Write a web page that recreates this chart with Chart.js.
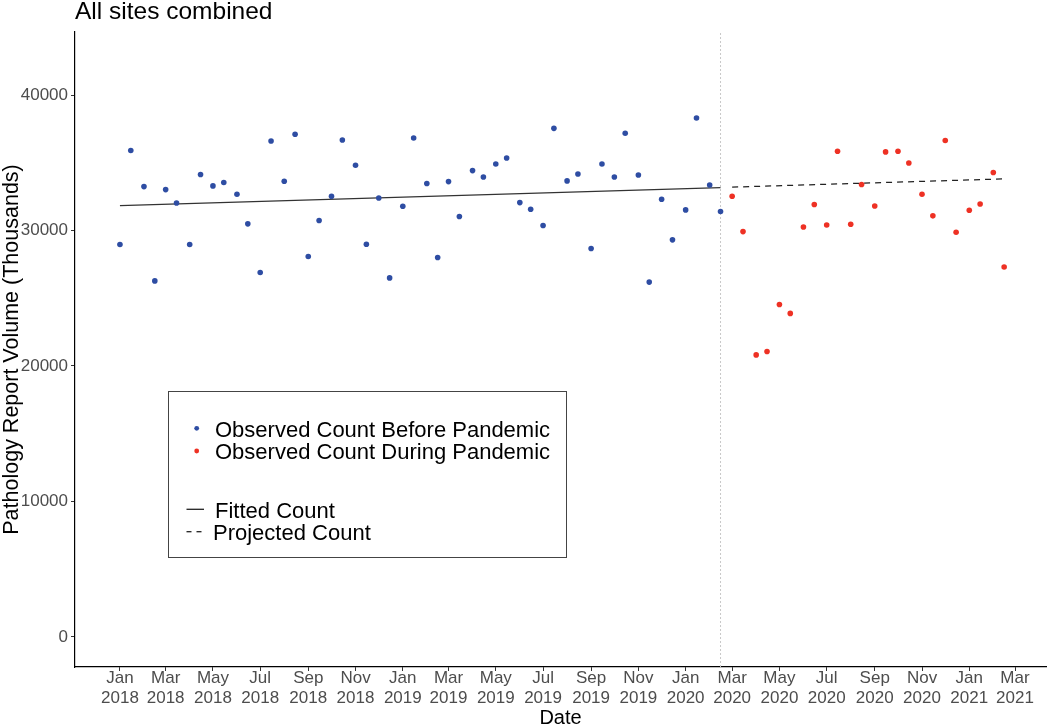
<!DOCTYPE html>
<html>
<head>
<meta charset="utf-8">
<script src="https://cdn.jsdelivr.net/npm/chart.js@4/dist/chart.umd.min.js"></script>
<style>
  html, body { margin: 0; padding: 0; background: #fff; }
  #wrap { width: 1050px; height: 728px; }
</style>
</head>
<body>
<div id="wrap"><canvas id="c" width="1050" height="728"></canvas></div>
<script>
// ---------- DATA ----------
const titleText = 'All sites combined';
const xTitle = 'Date';
const yTitle = 'Pathology Report Volume (Thousands)';

// semi-monthly observations (1st and 15th of each month)
const beforeStart = [2018, 1];   // Jan 2018
const beforeValues = [28970, 35900, 33240, 26280, 33020, 32030, 28970, 34130, 33290, 33540,
                      32680, 30490, 26900, 36610, 33640, 37100, 28080, 30740, 32530, 36680,
                      34820, 28990, 32400, 26500, 31790, 36830, 33470, 28010, 33610, 31030,
                      34420, 33950, 34910, 35350, 32060, 31570, 30370, 37540, 33660, 34170,
                      28670, 34910, 33950, 37180, 34100, 26190, 32310, 29310, 31520, 38300,
                      33360, 31400];
const duringStart = [2020, 3];   // Mar 2020
const duringValues = [32530, 29920, 20820, 21070, 24540, 23880, 30260, 31920, 30410, 35850,
                      30460, 33390, 31810, 35800, 35850, 34980, 32680, 31080, 36640, 29870,
                      31500, 31960, 34280, 27310];

const fittedDates = ['2018-01-01', '2020-02-15'];
const fittedValues = [31830, 33170];
const projectedDates = ['2020-03-01', '2021-02-15'];
const projectedValues = [33200, 33810];
const cutoffDate = '2020-02-15';

const xTickDates = ['2018-01-01','2018-03-01','2018-05-01','2018-07-01','2018-09-01','2018-11-01',
                    '2019-01-01','2019-03-01','2019-05-01','2019-07-01','2019-09-01','2019-11-01',
                    '2020-01-01','2020-03-01','2020-05-01','2020-07-01','2020-09-01','2020-11-01',
                    '2021-01-01','2021-03-01'];
const xTickLabels = [['Jan','2018'],['Mar','2018'],['May','2018'],['Jul','2018'],['Sep','2018'],['Nov','2018'],
                     ['Jan','2019'],['Mar','2019'],['May','2019'],['Jul','2019'],['Sep','2019'],['Nov','2019'],
                     ['Jan','2020'],['Mar','2020'],['May','2020'],['Jul','2020'],['Sep','2020'],['Nov','2020'],
                     ['Jan','2021'],['Mar','2021']];
const yTickValues = [0, 10000, 20000, 30000, 40000];

const legendItems = [
  { label: 'Observed Count Before Pandemic', kind: 'dot', color: '#2e4da3' },
  { label: 'Observed Count During Pandemic', kind: 'dot', color: '#ee3124' },
  { label: 'Fitted Count', kind: 'line', color: '#222' },
  { label: 'Projected Count', kind: 'dash', color: '#222' }
];

// ---------- HELPERS ----------
const DAY = 86400000;
const ORIGIN = Date.UTC(2018, 0, 1);
function dayOf(s) {
  const [y, m, d] = s.split('-').map(Number);
  return (Date.UTC(y, m - 1, d) - ORIGIN) / DAY;
}
function semiMonthlyDays(start, count) {
  const out = [];
  let y = start[0], m = start[1] - 1;
  for (let i = 0; i < count; i++) {
    const d = (i % 2 === 0) ? 1 : 15;
    out.push((Date.UTC(y, m, d) - ORIGIN) / DAY);
    if (i % 2 === 1) { m++; if (m > 11) { m = 0; y++; } }
  }
  return out;
}
const beforeDays = semiMonthlyDays(beforeStart, beforeValues.length);
const duringDays = semiMonthlyDays(duringStart, duringValues.length);
const xTicks = xTickDates.map(dayOf);

const Y_MIN = -2215, Y_MAX = 44650;
const X_MIN = -58, X_MAX = 1195;
const FONT = "'Liberation Sans', Arial, Helvetica, sans-serif";

// ---------- PLUGINS ----------
const titlePlugin = {
  id: 'ggTitle',
  afterDraw(chart) {
    const ctx = chart.ctx;
    ctx.save();
    ctx.font = '24.5px ' + FONT;
    ctx.fillStyle = '#000';
    ctx.textAlign = 'left';
    ctx.textBaseline = 'alphabetic';
    ctx.fillText(titleText, 75, 19);
    ctx.restore();
  }
};

const legendPlugin = {
  id: 'ggLegend',
  afterDraw(chart) {
    const ctx = chart.ctx;
    ctx.save();
    ctx.strokeStyle = '#444';
    ctx.lineWidth = 1;
    ctx.strokeRect(168.5, 391.5, 398, 166);
    ctx.font = '22px ' + FONT;
    ctx.fillStyle = '#000';
    ctx.textBaseline = 'alphabetic';
    ctx.textAlign = 'left';
    const rows = [
      { item: legendItems[0], ySym: 428.3, yText: 436.7, xText: 215 },
      { item: legendItems[1], ySym: 451.0, yText: 459.3, xText: 215 },
      { item: legendItems[2], ySym: 509.3, yText: 517.5, xText: 215 },
      { item: legendItems[3], ySym: 531.7, yText: 539.5, xText: 213 }
    ];
    rows.forEach(r => {
      const it = r.item;
      if (it.kind === 'dot') {
        ctx.beginPath();
        ctx.fillStyle = it.color;
        ctx.arc(196.7, r.ySym, 2.4, 0, Math.PI * 2);
        ctx.fill();
      } else {
        ctx.beginPath();
        ctx.strokeStyle = it.color;
        ctx.lineWidth = 1.3;
        ctx.setLineDash(it.kind === 'dash' ? [5, 5] : []);
        ctx.moveTo(186.5, r.ySym);
        ctx.lineTo(204, r.ySym);
        ctx.stroke();
        ctx.setLineDash([]);
      }
      ctx.fillStyle = '#000';
      ctx.fillText(it.label, r.xText, r.yText);
    });
    ctx.restore();
  }
};

// ---------- CHART ----------
const ctx = document.getElementById('c').getContext('2d');
new Chart(ctx, {
  data: {
    datasets: [
      {
        type: 'scatter', label: legendItems[0].label, order: 0,
        data: beforeDays.map((d, i) => ({ x: d, y: beforeValues[i] })),
        backgroundColor: legendItems[0].color, borderWidth: 0, pointRadius: 2.8
      },
      {
        type: 'scatter', label: legendItems[1].label, order: 0,
        data: duringDays.map((d, i) => ({ x: d, y: duringValues[i] })),
        backgroundColor: legendItems[1].color, borderWidth: 0, pointRadius: 2.8
      },
      {
        type: 'line', label: legendItems[2].label, order: 1,
        data: fittedDates.map((d, i) => ({ x: dayOf(d), y: fittedValues[i] })),
        borderColor: '#333', borderWidth: 1.3, pointRadius: 0, fill: false
      },
      {
        type: 'line', label: legendItems[3].label, order: 1,
        data: projectedDates.map((d, i) => ({ x: dayOf(d), y: projectedValues[i] })),
        borderColor: '#222', borderWidth: 1.3, borderDash: [6, 5], pointRadius: 0, fill: false
      },
      {
        type: 'line', label: 'cutoff', order: 2,
        data: [{ x: dayOf(cutoffDate), y: Y_MIN }, { x: dayOf(cutoffDate), y: Y_MAX }],
        borderColor: '#c8c8c8', borderWidth: 1, borderDash: [2, 2], pointRadius: 0, fill: false
      }
    ]
  },
  options: {
    responsive: false,
    animation: false,
    layout: { padding: { left: 0, right: 2, top: 32, bottom: 0 } },
    plugins: { legend: { display: false }, tooltip: { enabled: false }, title: { display: false } },
    scales: {
      x: {
        type: 'linear', min: X_MIN, max: X_MAX,
        afterBuildTicks: s => { s.ticks = xTicks.map(v => ({ value: v })); },
        afterFit: s => { s.height = 61; },
        grid: { display: true, drawOnChartArea: false, drawTicks: true, tickLength: 4, color: '#333', lineWidth: 1 },
        border: { display: true, color: '#000', width: 1.2 },
        ticks: {
          autoSkip: false, maxRotation: 0, minRotation: 0, padding: -2,
          color: '#4d4d4d', font: { family: FONT, size: 17, lineHeight: 1.15 },
          callback: (v, i) => xTickLabels[i]
        },
        title: { display: true, text: xTitle, color: '#000', font: { family: FONT, size: 20, lineHeight: 1 }, padding: { top: 0, bottom: 0 } }
      },
      y: {
        type: 'linear', min: Y_MIN, max: Y_MAX,
        afterBuildTicks: s => { s.ticks = yTickValues.map(v => ({ value: v })); },
        afterFit: s => { s.width = 75; },
        grid: { display: true, drawOnChartArea: false, drawTicks: true, tickLength: 4, color: '#333', lineWidth: 1 },
        border: { display: true, color: '#000', width: 1.2 },
        ticks: {
          padding: 3, color: '#4d4d4d', font: { family: FONT, size: 17 },
          callback: v => String(v)
        },
        title: { display: true, text: yTitle, color: '#000', font: { family: FONT, size: 21.5, lineHeight: 1.1 }, padding: { top: 0, bottom: 0 } }
      }
    }
  },
  plugins: [titlePlugin, legendPlugin]
});
</script>
</body>
</html>
